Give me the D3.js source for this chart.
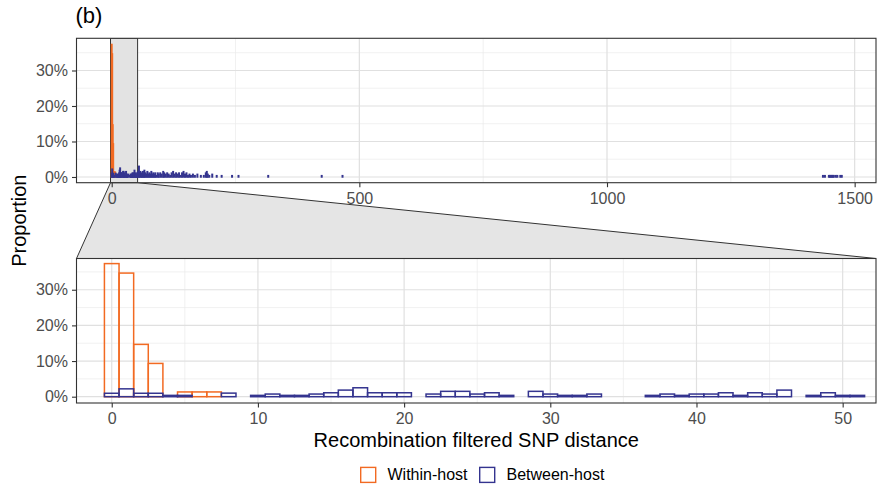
<!DOCTYPE html>
<html>
<head>
<meta charset="utf-8">
<script src="https://cdn.jsdelivr.net/npm/d3@7"></script>
<style>
  html, body { margin: 0; padding: 0; background: #ffffff; }
  svg { display: block; font-family: "Liberation Sans", Arial, Helvetica, sans-serif; }
</style>
</head>
<body>
<svg id="chart" width="877" height="489"></svg>
<script>
// SNP distance (bin centre) and proportion (%) per group
const withinDist = [0, 1, 2, 3, 5, 6, 7];
const withinPct  = [37.33, 34.67, 14.67, 9.33, 1.33, 1.33, 1.33];

const betweenDist = [
  0, 1, 2, 3, 4, 5, 8, 10, 11, 12, 13, 14, 15, 16, 17, 18, 19, 20,
  22, 23, 24, 25, 26, 27, 29, 30, 31, 32, 33, 37, 38, 39, 40, 41, 42, 43,
  44, 45, 46, 48, 49, 50, 51,
  53, 55, 56, 58, 60, 61, 63, 65, 66, 68, 70, 72, 74, 76, 78, 80, 82, 84,
  86, 88, 90, 93, 95, 98, 101, 104, 106, 109, 112, 115, 118, 121, 124, 127,
  130, 133, 136, 139, 142, 145, 148, 151, 154, 157, 160, 164, 168, 173, 180,
  186, 190, 192, 194, 197, 203, 212, 222, 243, 256, 316, 424, 466,
  1436, 1440, 1448, 1450, 1452, 1454, 1456, 1458, 1462, 1465, 1471, 1474
];
const betweenPct = [
  0.96, 2.2, 0.96, 0.96, 0.37, 0.37, 1.0, 0.37, 0.74, 0.37, 0.37, 0.74, 1.1, 1.85, 2.5, 1.1, 1.1, 1.1,
  0.74, 1.5, 1.5, 0.74, 1.1, 0.37, 1.5, 0.74, 0.37, 0.37, 0.74, 0.37, 0.74, 0.37, 0.74, 0.74, 1.1, 0.37,
  1.1, 0.74, 1.85, 0.37, 1.1, 0.37, 0.37,
  1.5, 3.0, 1.1, 1.5, 0.74, 1.1, 1.5, 0.74, 1.85, 1.1, 0.74, 1.5, 0.74, 1.1, 0.74, 1.5, 0.74, 1.1,
  0.74, 1.1, 0.37, 1.1, 0.74, 1.1, 0.74, 1.5, 1.1, 0.74, 1.1, 0.74, 0.37, 1.1, 1.5, 0.74,
  1.1, 0.74, 1.1, 0.37, 1.1, 1.5, 0.74, 1.1, 0.37, 0.74, 0.37, 0.74, 0.37, 0.74, 0.37,
  0.37, 1.1, 1.5, 0.74, 0.37, 0.74, 0.37, 0.37, 0.37, 0.37, 0.37, 0.37, 0.37,
  0.37, 0.37, 0.37, 0.37, 0.37, 0.37, 0.37, 0.37, 0.37, 0.37, 0.37, 0.37
];

const groupNames = ["Within-host", "Between-host"];
const groupColors = ["#f26a22", "#34348f"];

const fullTicks = [0, 500, 1000, 1500];
const fullMinor = [250, 750, 1250];
const zoomTicks = [0, 10, 20, 30, 40, 50];
const zoomMinor = [5, 15, 25, 35, 45];
const yTicks = [0, 10, 20, 30];
const yMinor = [5, 15, 25, 35];

const zoomRange = [-2.41, 52.28];

const series = [
  { color: groupColors[0], bins: withinDist.map((d, i) => ({ d, p: withinPct[i] })) },
  { color: groupColors[1], bins: betweenDist.map((d, i) => ({ d, p: betweenPct[i] })) }
];

const svg = d3.select("#chart");
const left = 76.5, right = 876;
const topPanel = { y0: 38.3, y1: 182.7 };
const botPanel = { y0: 258.5, y1: 403 };

const xFull = d3.scaleLinear().domain([-71.07, 1543.1]).range([left, right]);
const xZoom = d3.scaleLinear().domain(zoomRange).range([left, right]);
const yTop = d3.scaleLinear().domain([-1.61, 39.07]).range([topPanel.y1, topPanel.y0]);
const yBot = d3.scaleLinear().domain([-1.77, 38.76]).range([botPanel.y1, botPanel.y0]);

const defs = svg.append("defs");
function clip(id, p) {
  defs.append("clipPath").attr("id", id).append("rect")
    .attr("x", left).attr("y", p.y0).attr("width", right - left).attr("height", p.y1 - p.y0);
}
clip("clipTop", topPanel);
clip("clipBot", botPanel);

// Connector between the highlighted range and the zoomed panel
svg.append("polygon")
  .attr("points", [
    [xFull(zoomRange[0]), topPanel.y1], [xFull(zoomRange[1]), topPanel.y1],
    [right, botPanel.y0], [left, botPanel.y0]
  ].map(p => p.join(",")).join(" "))
  .attr("fill", "#e5e5e5")
  .attr("stroke", "#333333").attr("stroke-width", 1);

function panel(p, x, y, majors, minors, clipId, highlight) {
  const g = svg.append("g");
  g.append("rect").attr("x", left).attr("y", p.y0)
    .attr("width", right - left).attr("height", p.y1 - p.y0).attr("fill", "#ffffff");

  const grid = g.append("g").attr("clip-path", `url(#${clipId})`);
  grid.selectAll("line.ymin").data(yMinor).join("line")
    .attr("x1", left).attr("x2", right).attr("y1", d => y(d)).attr("y2", d => y(d))
    .attr("stroke", "#ebebeb").attr("stroke-width", 0.7);
  grid.selectAll("line.xmin").data(minors).join("line")
    .attr("y1", p.y0).attr("y2", p.y1).attr("x1", d => x(d)).attr("x2", d => x(d))
    .attr("stroke", "#ebebeb").attr("stroke-width", 0.7);
  grid.selectAll("line.ymaj").data(yTicks).join("line")
    .attr("x1", left).attr("x2", right).attr("y1", d => y(d)).attr("y2", d => y(d))
    .attr("stroke", "#e0e0e0").attr("stroke-width", 1.2);
  grid.selectAll("line.xmaj").data(majors).join("line")
    .attr("y1", p.y0).attr("y2", p.y1).attr("x1", d => x(d)).attr("x2", d => x(d))
    .attr("stroke", "#e0e0e0").attr("stroke-width", 1.2);

  if (highlight) {
    grid.append("rect")
      .attr("x", x(zoomRange[0])).attr("y", p.y0)
      .attr("width", x(zoomRange[1]) - x(zoomRange[0])).attr("height", p.y1 - p.y0)
      .attr("fill", "#e3e3e3").attr("stroke", "#333333").attr("stroke-width", 1);
  }

  const bars = g.append("g").attr("clip-path", `url(#${clipId})`);
  series.forEach(s => {
    bars.append("g").selectAll("rect").data(s.bins).join("rect")
      .attr("x", d => x(d.d - 0.5))
      .attr("width", d => Math.max(0.01, x(d.d + 0.5) - x(d.d - 0.5)))
      .attr("y", d => y(d.p))
      .attr("height", d => y(0) - y(d.p))
      .attr("fill", "none")
      .attr("stroke", s.color)
      .attr("stroke-width", 1.5);
  });

  g.append("rect").attr("x", left).attr("y", p.y0)
    .attr("width", right - left).attr("height", p.y1 - p.y0)
    .attr("fill", "none").attr("stroke", "#333333").attr("stroke-width", 1.1);

  const xAxis = d3.axisBottom(x).tickValues(majors).tickSize(4.5).tickPadding(5).tickFormat(d3.format("d"));
  const ax = svg.append("g").attr("transform", `translate(0,${p.y1})`).call(xAxis);
  const yAxis = d3.axisLeft(y).tickValues(yTicks).tickSize(4.5).tickPadding(4).tickFormat(d => d + "%");
  const ay = svg.append("g").attr("transform", `translate(${left},0)`).call(yAxis);
  [ax, ay].forEach(a => {
    a.select(".domain").remove();
    a.selectAll(".tick line").attr("stroke", "#333333").attr("stroke-width", 1.1);
    a.selectAll(".tick text").attr("fill", "#4d4d4d").style("font-size", "16px")
      .style("font-family", "'Liberation Sans', Arial, sans-serif");
  });
}

panel(topPanel, xFull, yTop, fullTicks, fullMinor, "clipTop", true);
panel(botPanel, xZoom, yBot, zoomTicks, zoomMinor, "clipBot", false);

// Titles
svg.append("text").attr("x", 75.5).attr("y", 23).attr("font-size", 22).attr("fill", "#000").text("(b)");
svg.append("text")
  .attr("transform", `translate(26.3,${(topPanel.y0 + botPanel.y1) / 2}) rotate(-90)`)
  .attr("text-anchor", "middle").attr("font-size", 20).attr("fill", "#000").text("Proportion");
svg.append("text").attr("x", (left + right) / 2).attr("y", 446.5)
  .attr("text-anchor", "middle").attr("font-size", 20).attr("fill", "#000")
  .text("Recombination filtered SNP distance");

// Legend
const legendX = [360, 479];
const lg = svg.append("g");
groupNames.forEach((name, i) => {
  lg.append("rect").attr("x", legendX[i] + 0.7).attr("y", 467.4)
    .attr("width", 15).attr("height", 15)
    .attr("fill", "none").attr("stroke", groupColors[i]).attr("stroke-width", 1.4);
  lg.append("text").attr("x", legendX[i] + 27.5).attr("y", 480)
    .attr("font-size", 16).attr("fill", "#000").text(name);
});
</script>
</body>
</html>
